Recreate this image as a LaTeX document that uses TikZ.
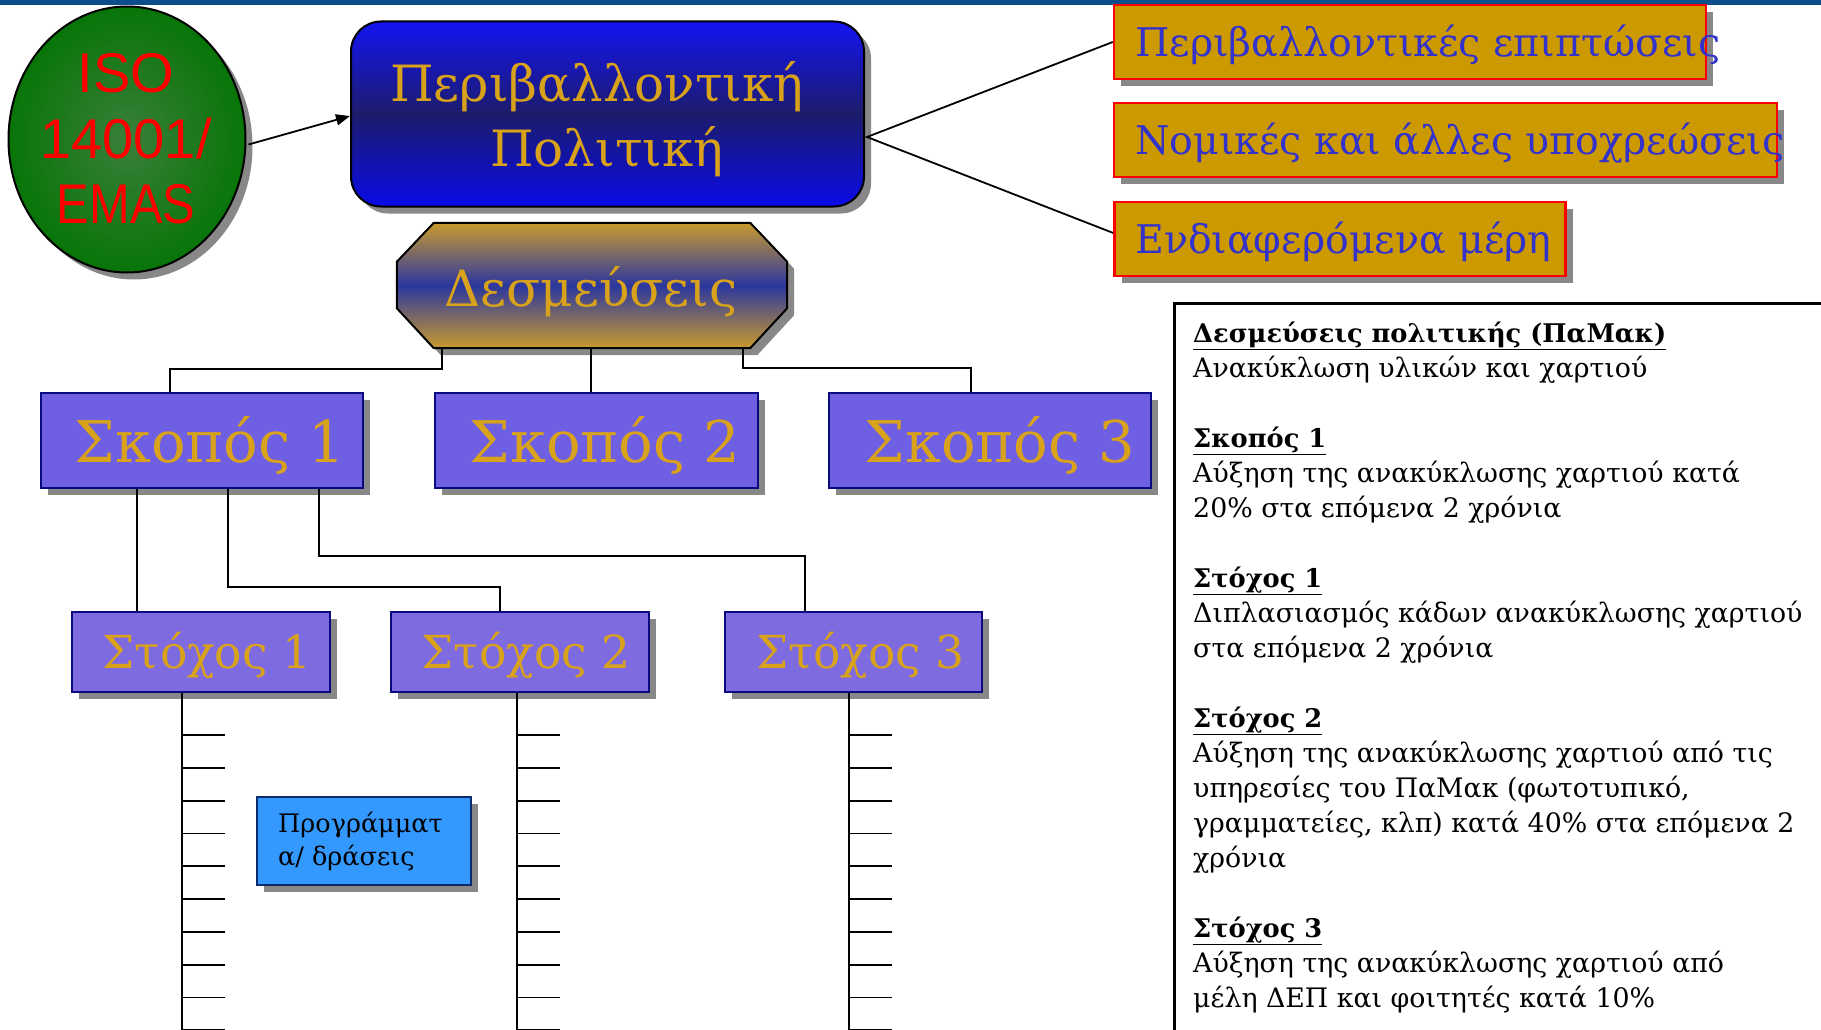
\documentclass[tikz,border=0pt]{standalone}
\usepackage{fontspec}
\setmainfont{DejaVu Serif}
\newfontfamily\isofont{Liberation Sans}
\usetikzlibrary{shadows,arrows.meta,calc,shapes.geometric}
\definecolor{topbar}{HTML}{0A4F8C}
\definecolor{isogreen}{HTML}{087508}
\definecolor{isoin}{HTML}{3A7F3A}
\definecolor{poltop}{HTML}{1414F2}
\definecolor{polmid}{HTML}{1C1C6C}
\definecolor{polbot}{HTML}{0A0AE8}
\definecolor{goldtxt}{HTML}{D9A21B}
\definecolor{desgold}{HTML}{C99A2E}
\definecolor{desblue}{HTML}{2B379E}
\definecolor{skfill}{HTML}{6F5FE3}
\definecolor{stfill}{HTML}{7F6BE0}
\definecolor{navy}{HTML}{0A0A80}
\definecolor{ochre}{HTML}{CC9900}
\definecolor{bluetxt}{HTML}{3333CC}
\definecolor{progfill}{HTML}{3399FF}
\definecolor{progedge}{HTML}{0A2A6A}
\tikzset{
  shad/.style={drop shadow={shadow xshift=7pt,shadow yshift=-7pt,fill=black!55,opacity=0.85}},
  conn/.style={draw=black,line width=1.8pt},
  isonode/.style={ellipse,draw=black,line width=2pt,inner color=isoin,outer color=isogreen,shad},
  isotxt/.style={font=\isofont\fontsize{56}{60}\selectfont,text=red,inner sep=0pt},
  polbox/.style={rectangle,rounded corners=30pt,draw=black,line width=2pt,top color=poltop,bottom color=polbot,middle color=polmid,shad},
  poltxt/.style={font=\fontsize{50}{60}\selectfont,text=goldtxt,inner sep=0pt},
  destxt/.style={font=\fontsize{50}{60}\selectfont,text=goldtxt,inner sep=0pt},
  skbox/.style={rectangle,draw=navy,line width=2pt,fill=skfill,shad},
  sktxt/.style={font=\fontsize{57.5}{60}\selectfont,text=goldtxt,inner sep=0pt},
  stbox/.style={rectangle,draw=navy,line width=2pt,fill=stfill,shad},
  sttxt/.style={font=\fontsize{45.5}{50}\selectfont,text=goldtxt,inner sep=0pt},
  rbox/.style={rectangle,draw=red,line width=2.5pt,fill=ochre,shad},
  rtxt/.style={font=\fontsize{39.5}{45}\selectfont,text=bluetxt,inner sep=0pt,anchor=base west},
  progbox/.style={rectangle,draw=progedge,line width=2pt,fill=progfill,shad},
  progtxt/.style={font=\fontsize{25.5}{28}\selectfont,text=black,inner sep=0pt,anchor=base west},
  ptxt/.style={font=\fontsize{26.8}{30}\selectfont,text=black,inner sep=0pt,anchor=base west},
  phead/.style={font=\bfseries\fontsize{25.7}{30}\selectfont,text=black,inner sep=0pt,anchor=base west},
}
\begin{document}
\begin{tikzpicture}[x=1pt,y=-1pt]
\useasboundingbox (0,0) rectangle (1821,1030);
\fill[topbar] (0,0) rectangle (1821,5);

% ISO ellipse
\node[isonode,minimum width=237pt,minimum height=266pt] (iso) at (127,139.5) {};
\node[isotxt,anchor=base] (iso1) at (126,93) {ISO};
\node[isotxt,anchor=base] (iso2) at (126,158) {14001/};
\node[isotxt,anchor=base,xscale=0.87] (iso3) at (126,223) {EMAS};

% policy
\node[polbox,minimum width=513pt,minimum height=185pt] (pol) at (607.5,114) {};
\node[poltxt,anchor=base] (polt1) at (597,102) {Περιβαλλοντική};
\node[poltxt,anchor=base] (polt2) at (607,167) {Πολιτική};
\draw[line width=1.8pt,-{Triangle[length=14pt,width=11pt]}] ($(iso.east)+(2,5)$) -- ($(pol.west)+(0,2)$);

% right boxes
\node[rbox,minimum width=592pt,minimum height=74pt] (r1) at (1410,42) {};
\node[rbox,minimum width=663pt,minimum height=74pt] (r2) at (1445.5,140) {};
\node[rbox,minimum width=451pt,minimum height=74pt] (r3) at (1340,239) {};
\node[rtxt] (r1t) at (1135,57) {Περιβαλλοντικές επιπτώσεις};
\node[rtxt] (r2t) at (1135,155) {Νομικές και άλλες υποχρεώσεις};
\node[rtxt] (r3t) at (1135,253) {Ενδιαφερόμενα μέρη};
\coordinate (pj) at (867,137);
\draw[conn] (r1.west) -- (pj) -- ($(r3.west)+(0,-6)$);

% commitments octagon
\node[minimum width=390pt,minimum height=125pt,inner sep=0pt] (des) at (592,285.5) {};
\path[draw=black,line width=2pt,top color=desgold,bottom color=desgold,middle color=desblue,shad]
  ($(des.north west)+(37,0)$) -- ($(des.north east)+(-37,0)$) -- ($(des.north east)+(0,39)$)
  -- ($(des.south east)+(0,-40)$) -- ($(des.south east)+(-37,0)$) -- ($(des.south west)+(37,0)$)
  -- ($(des.south west)+(0,-40)$) -- ($(des.north west)+(0,39)$) -- cycle;
\node[destxt,anchor=base] (dest) at (591,306) {Δεσμεύσεις};

% goals
\node[skbox,minimum width=322pt,minimum height=95pt] (s1) at (202,440.5) {};
\node[skbox,minimum width=323pt,minimum height=95pt] (s2) at (596.5,440.5) {};
\node[skbox,minimum width=322pt,minimum height=95pt] (s3) at (990,440.5) {};
\node[sktxt,anchor=base] (s1t) at (210,462) {Σκοπός 1};
\node[sktxt,anchor=base] (s2t) at (605,462) {Σκοπός 2};
\node[sktxt,anchor=base] (s3t) at (1000,462) {Σκοπός 3};
\draw[conn] ($(des.south)+(-150,0)$) -- ++(0,21) -| ($(s1.north)+(-32,0)$);
\draw[conn] ($(des.south)+(-1,0)$) -- ($(s2.north)+(-5.5,0)$);
\draw[conn] ($(des.south)+(151,0)$) -- ++(0,20) -| ($(s3.north)+(-19,0)$);

% targets
\node[stbox,minimum width=258pt,minimum height=80pt] (t1) at (201,652) {};
\node[stbox,minimum width=258pt,minimum height=80pt] (t2) at (520,652) {};
\node[stbox,minimum width=257pt,minimum height=80pt] (t3) at (853.5,652) {};
\node[sttxt,anchor=base] (t1t) at (207,668) {Στόχος 1};
\node[sttxt,anchor=base] (t2t) at (526,668) {Στόχος 2};
\node[sttxt,anchor=base] (t3t) at (860.5,668) {Στόχος 3};
\draw[conn] ($(s1.south)+(-65,0)$) -- ($(t1.north)+(-64,0)$);
\draw[conn] ($(s1.south)+(26,0)$) -- ++(0,98) -| ($(t2.north)+(-20,0)$);
\draw[conn] ($(s1.south)+(117,0)$) -- ++(0,67) -| ($(t3.north)+(-48.5,0)$);

% ladders
\foreach \t/\dx in {t1/-19,t2/-3,t3/-4.5}{
  \draw[conn] ($(\t.south)+(\dx,0)$) -- ++(0,345);
  \foreach \k in {0,...,9}{
    \draw[conn] ($(\t.south)+(\dx,42+32.8*\k)$) -- ++(43,0);
  }
}

% programmes
\node[progbox,minimum width=214pt,minimum height=88pt] (prog) at (364,841) {};
\node[progtxt] (prog1) at (278,832) {Προγράμματ};
\node[progtxt] (prog2) at (278,865) {α/ δράσεις};

% right panel
\node[draw=black,line width=3pt,minimum width=680pt,minimum height=760pt,anchor=north west] (panel) at (1173,302) {};
\node[phead] (p1) at (1193,342) {\underline{Δεσμεύσεις πολιτικής (ΠαΜακ)}};
\node[ptxt] (p2) at (1193,377) {Ανακύκλωση υλικών και χαρτιού};
\node[phead] (p4) at (1193,447) {\underline{Σκοπός 1}};
\node[ptxt] (p5) at (1193,482) {Αύξηση της ανακύκλωσης χαρτιού κατά};
\node[ptxt] (p6) at (1193,517) {20\% στα επόμενα 2 χρόνια};
\node[phead] (p8) at (1193,587) {\underline{Στόχος 1}};
\node[ptxt] (p9) at (1193,622) {Διπλασιασμός κάδων ανακύκλωσης χαρτιού};
\node[ptxt] (p10) at (1193,657) {στα επόμενα 2 χρόνια};
\node[phead] (p12) at (1193,727) {\underline{Στόχος 2}};
\node[ptxt] (p13) at (1193,762) {Αύξηση της ανακύκλωσης χαρτιού από τις};
\node[ptxt] (p14) at (1193,797) {υπηρεσίες του ΠαΜακ (φωτοτυπικό,};
\node[ptxt] (p15) at (1193,832) {γραμματείες, κλπ) κατά 40\% στα επόμενα 2};
\node[ptxt] (p16) at (1193,867) {χρόνια};
\node[phead] (p18) at (1193,937) {\underline{Στόχος 3}};
\node[ptxt] (p19) at (1193,972) {Αύξηση της ανακύκλωσης χαρτιού από};
\node[ptxt] (p20) at (1193,1007) {μέλη ΔΕΠ και φοιτητές κατά 10\%};
\end{tikzpicture}
\end{document}
